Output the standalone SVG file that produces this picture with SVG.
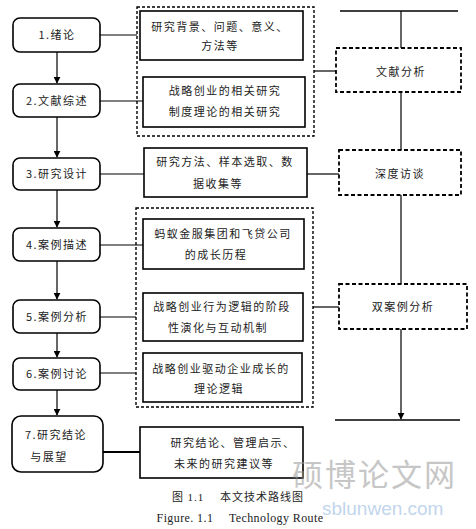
<svg xmlns="http://www.w3.org/2000/svg" width="476" height="529" viewBox="0 0 476 529">
<defs>
<marker id="ah" viewBox="0 0 10 10" refX="9" refY="5" markerWidth="7" markerHeight="7" orient="auto" markerUnits="userSpaceOnUse"><path d="M0,0 L10,5 L0,10 z" fill="#000"/></marker>
<style>
.rb{fill:#fff;stroke:#000;stroke-width:1.6}
.bx{fill:#fff;stroke:#000;stroke-width:1.6}
.dg{fill:none;stroke:#000;stroke-width:1.4;stroke-dasharray:3,2}
.db{fill:#fff;stroke:#000;stroke-width:1.8;stroke-dasharray:4,2.5}
.t{font-family:"Noto Sans CJK SC","Liberation Serif",serif;font-size:11px;letter-spacing:1.5px;fill:#222;text-anchor:middle}
.cap{font-family:"Liberation Serif","Noto Sans CJK SC",serif;font-size:11px;fill:#222;text-anchor:middle}
.ln{stroke:#000;stroke-width:1.2;fill:none}
</style>
</defs>
<rect width="476" height="529" fill="#fff"/>
<g id="connectors">
<line class="ln" x1="57" y1="52" x2="57" y2="83" marker-end="url(#ah)"/>
<line class="ln" x1="57" y1="117" x2="57" y2="157" marker-end="url(#ah)"/>
<line class="ln" x1="57" y1="190" x2="57" y2="227" marker-end="url(#ah)"/>
<line class="ln" x1="57" y1="261" x2="57" y2="299" marker-end="url(#ah)"/>
<line class="ln" x1="57" y1="333" x2="57" y2="357" marker-end="url(#ah)"/>
<line class="ln" x1="57" y1="390" x2="57" y2="415" marker-end="url(#ah)"/>
<line class="ln" x1="100" y1="35" x2="137" y2="35"/>
<line class="ln" x1="100" y1="101" x2="143" y2="101"/>
<line class="ln" x1="100" y1="174" x2="144" y2="174"/>
<line class="ln" x1="100" y1="245" x2="143" y2="245"/>
<line class="ln" x1="100" y1="317" x2="136" y2="317"/>
<line class="ln" x1="100" y1="373" x2="136" y2="373"/>
<line class="ln" x1="103" y1="452" x2="140" y2="452" style="stroke-width:2"/>
<line class="ln" x1="314" y1="71" x2="336" y2="71"/>
<line class="ln" x1="307" y1="174" x2="339" y2="174"/>
<line class="ln" x1="313" y1="307" x2="339" y2="307"/>
<line class="ln" x1="340" y1="11" x2="458" y2="11" style="stroke-width:1.6"/>
<line class="ln" x1="401" y1="11" x2="401" y2="48"/>
<line class="ln" x1="401" y1="92" x2="401" y2="150"/>
<line class="ln" x1="401" y1="195" x2="401" y2="284"/>
<line class="ln" x1="401" y1="329" x2="401" y2="419" marker-end="url(#ah)"/>
<line class="ln" x1="335" y1="420" x2="460" y2="420" style="stroke-width:1.6"/>
</g>
<g id="n1"><rect class="rb" x="13" y="18" width="87" height="34" rx="7"/><text class="t" x="57" y="39">1.绪论</text></g>
<g id="n2"><rect class="rb" x="13" y="84" width="87" height="33" rx="7"/><text class="t" x="57" y="105">2.文献综述</text></g>
<g id="n3"><rect class="rb" x="13" y="158" width="87" height="32" rx="7"/><text class="t" x="57" y="178">3.研究设计</text></g>
<g id="n4"><rect class="rb" x="13" y="228" width="87" height="33" rx="7"/><text class="t" x="57" y="249">4.案例描述</text></g>
<g id="n5"><rect class="rb" x="13" y="300" width="87" height="33" rx="7"/><text class="t" x="57" y="321">5.案例分析</text></g>
<g id="n6"><rect class="rb" x="13" y="358" width="87" height="32" rx="7"/><text class="t" x="57" y="378">6.案例讨论</text></g>
<g id="n7"><rect class="rb" x="12" y="416" width="91" height="56" rx="9"/><text class="t" x="56" y="439">7.研究结论</text><text class="t" x="49" y="461">与展望</text></g>
<g id="g1"><rect class="dg" x="137" y="7" width="177" height="129"/></g>
<g id="a"><rect class="bx" x="140" y="11" width="163" height="49"/><text class="t" x="220" y="31">研究背景、问题、意义、</text><text class="t" x="220" y="50">方法等</text></g>
<g id="b"><rect class="bx" x="143" y="77" width="162" height="50"/><text class="t" x="225" y="95">战略创业的相关研究</text><text class="t" x="225" y="116">制度理论的相关研究</text></g>
<g id="c"><rect class="bx" x="144" y="148" width="163" height="49"/><text class="t" x="225" y="166">研究方法、样本选取、数</text><text class="t" x="218" y="188">据收集等</text></g>
<g id="g2"><rect class="dg" x="136" y="208" width="177" height="199"/></g>
<g id="d"><rect class="bx" x="143" y="219" width="161" height="50"/><text class="t" x="223" y="238">蚂蚁金服集团和飞贷公司</text><text class="t" x="216" y="259">的成长历程</text></g>
<g id="e"><rect class="bx" x="143" y="293" width="160" height="48"/><text class="t" x="222" y="311">战略创业行为逻辑的阶段</text><text class="t" x="218" y="332">性演化与互动机制</text></g>
<g id="f"><rect class="bx" x="143" y="353" width="159" height="49"/><text class="t" x="221" y="373">战略创业驱动企业成长的</text><text class="t" x="219" y="393">理论逻辑</text></g>
<g id="g"><rect class="bx" x="140" y="427" width="163" height="51"/><text class="t" x="233" y="447">研究结论、管理启示、</text><text class="t" x="224" y="468">未来的研究建议等</text></g>
<g id="r1"><rect class="db" x="336" y="48" width="125" height="44"/><text class="t" x="401" y="76">文献分析</text></g>
<g id="r2"><rect class="db" x="339" y="150" width="122" height="45"/><text class="t" x="400" y="178">深度访谈</text></g>
<g id="r3"><rect class="db" x="339" y="284" width="128" height="45"/><text class="t" x="403" y="311">双案例分析</text></g>
<text class="cap" x="238" y="501" style="letter-spacing:1px">图 1.1　 本文技术路线图</text>
<text class="cap" x="240" y="522" style="font-size:12px;letter-spacing:0.4px">Figure. 1.1　 Technology Route</text>
<g id="watermark" opacity="0.55">
<text x="292" y="486" style="font-family:'Noto Sans CJK SC',sans-serif;font-size:31px;fill:#999;letter-spacing:2px">硕博论文网</text>
<text x="322" y="515" style="font-family:'Liberation Sans',sans-serif;font-size:19px;fill:#8fb4dc">sblunwen.com</text>
</g>
</svg>
